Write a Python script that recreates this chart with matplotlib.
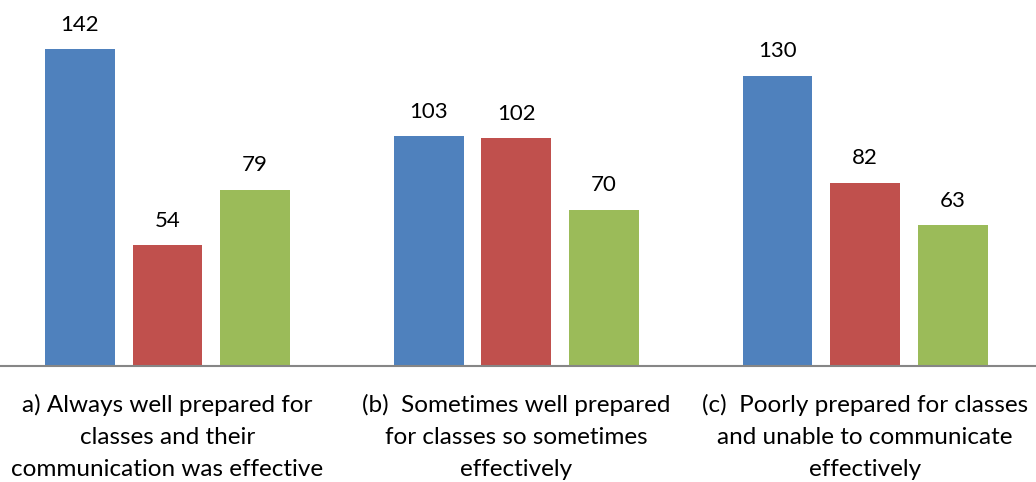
import numpy as np
import matplotlib.pyplot as plt

plt.rcParams['font.family'] = ['Lato', 'DejaVu Sans']

categories = [
    "a) Always well prepared for\nclasses and their\ncommunication was effective",
    "(b)  Sometimes well prepared\nfor classes so sometimes\neffectively",
    "(c)  Poorly prepared for classes\nand unable to communicate\neffectively",
]
series_1 = [142, 103, 130]
series_2 = [54, 102, 82]
series_3 = [79, 70, 63]
colors = ["#4F81BD", "#C0504D", "#9BBB59"]

fig = plt.figure(figsize=(10.36, 4.82), dpi=100)
ax = fig.add_axes([0, 116 / 482, 1, 366 / 482])

x = np.arange(len(categories))
width = 0.2
offset = 0.251
for i, (vals, col) in enumerate(zip([series_1, series_2, series_3], colors)):
    pos = x + (i - 1) * offset
    bars = ax.bar(pos, vals, width=width, color=col, zorder=2)
    for p, v in zip(pos, vals):
        ax.text(p, v + 6.5, str(v), ha="center", va="bottom", fontsize=16, color="#000000")

ax.set_xlim(-0.48, 2.49)
ax.set_ylim(0, 164)
ax.set_yticks([])
ax.set_xticks(x)
ax.set_xticklabels(categories, fontsize=17.5, linespacing=1.66)
ax.tick_params(axis="x", length=0, pad=20)
for side in ["top", "left", "right"]:
    ax.spines[side].set_visible(False)
ax.spines["bottom"].set_color("#868686")
ax.spines["bottom"].set_linewidth(1.5)

fig.savefig("out.png", dpi=100)
